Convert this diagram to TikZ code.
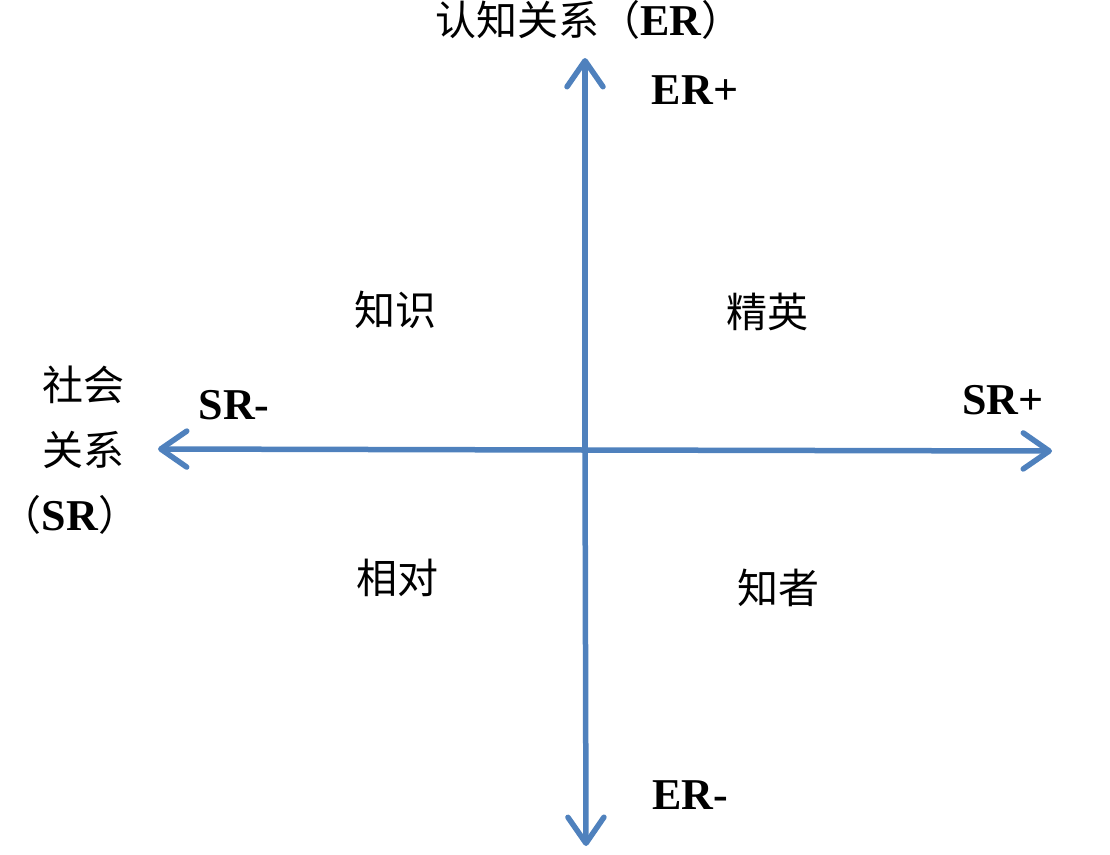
\documentclass[tikz,border=0pt]{standalone}
\usepackage{fontspec}
\setmainfont{Liberation Serif}
\newfontfamily\cjk{Noto Sans CJK SC}
\usetikzlibrary{arrows.meta}
\definecolor{axisblue}{RGB}{79,129,189}
\tikzset{
  axis/.style={draw=axisblue, line width=5.5pt, line cap=round,
    -{Straight Barb[length=26pt, width=36pt, round]}},
  lbl/.style={font=\fontsize{44}{50}\selectfont\bfseries, inner sep=0pt},
  zh/.style={font=\fontsize{41}{46}\selectfont\cjk, inner sep=0pt},
  zhl/.style={font=\fontsize{44}{50}\selectfont\rmfamily\bfseries},
}
\begin{document}
\begin{tikzpicture}[x=1pt,y=-1pt]
\useasboundingbox (0,0) rectangle (1110,854);
\coordinate (c) at (585,450);
\coordinate (top) at (585,58);
\coordinate (bottom) at (586,846);
\coordinate (left) at (158,449);
\coordinate (right) at (1052,451);
\draw[axis] (c) -- (top);
\draw[axis] (c) -- (bottom);
\draw[axis] (c) -- (left);
\draw[axis] (c) -- (right);
\node[zh] (title) at (589,20) {认知关系（{\fontsize{44}{50}\selectfont\rmfamily\bfseries ER}）};
\node[lbl] (erp) at (695,90) {ER+};
\node[lbl] (erm) at (690,795) {ER-};
\node[lbl] (srm) at (234,405) {SR-};
\node[lbl] (srp) at (1003,400) {SR+};
\node[zh] (sh) at (83,385) {社会};
\node[zh] (gx) at (83,450) {关系};
\node[zh] (sr) at (70,515) {（{\fontsize{44}{50}\selectfont\rmfamily\bfseries SR}）};
\node[zh] (q1) at (395,310) {知识};
\node[zh] (q2) at (767,312) {精英};
\node[zh] (q3) at (397,578) {相对};
\node[zh] (q4) at (778,588) {知者};
\end{tikzpicture}
\end{document}
